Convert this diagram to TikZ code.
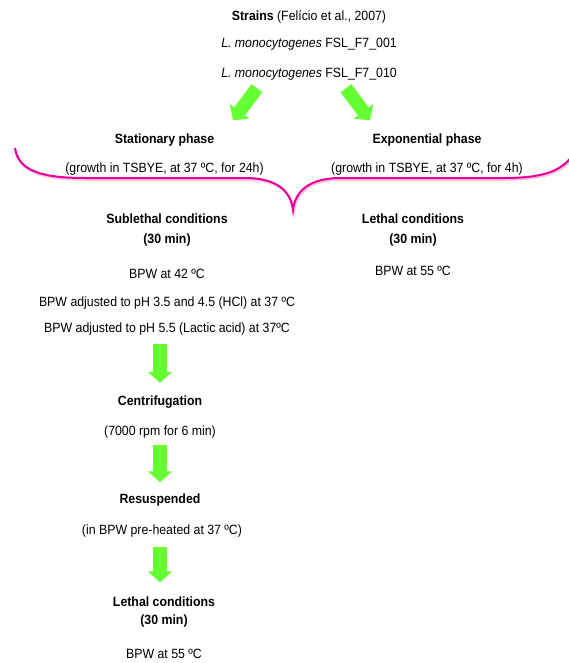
\documentclass[tikz,border=0pt]{standalone}
\usepackage{fontspec}
\setmainfont[FakeStretch=0.92]{Liberation Sans}
\usepackage{tikz}
\usetikzlibrary{arrows.meta,calc}
\definecolor{arrowgreen}{RGB}{102,255,51}
\definecolor{bracemag}{RGB}{232,0,155}
\definecolor{braceshade}{RGB}{246,196,220}

\begin{document}
\begin{tikzpicture}[x=1pt,y=-1pt,
  txt/.style={font=\fontsize{13.4}{15}\selectfont,inner sep=1pt,text height=9.5pt,text depth=2.5pt},
  bigarrow/.style={arrowgreen,line width=13.5pt,-{Triangle[width=24pt,length=11pt]}},
  downarrow/.style={bigarrow,shorten <=8pt,shorten >=12pt}]
  \useasboundingbox (0,0) rectangle (569,663);
  % strains
  \node[txt] (strains) at (309,17){\textbf{Strains} (Felício et al., 2007)};
  \node[txt] (strainA) at (309,44){\textit{L. monocytogenes} FSL\_F7\_001};
  \node[txt] (strainB) at (309,74){\textit{L. monocytogenes} FSL\_F7\_010};
  % growth phases
  \node[txt] (stat) at (164.5,140){\textbf{Stationary phase}};
  \node[txt] (statg) at (164.5,169){(growth in TSBYE, at 37 ºC, for 24h)};
  \node[txt] (expo) at (427,140){\textbf{Exponential phase}};
  \node[txt] (expog) at (427,169){(growth in TSBYE, at 37 ºC, for 4h)};
  \draw[bigarrow] ([shift={(-52,7)}]strainB.south) -- ++(-24,32);
  \draw[bigarrow] ([shift={(37,7)}]strainB.south) -- ++(24,32);
  % brace
  \draw[braceshade,line width=2.5pt,shift={(1,1.5)}] (15,148) .. controls (18,172) and (45,178) .. (85,178) -- (245,178) .. controls (278,178) and (291,192) .. (293,210) .. controls (295,192) and (308,178) .. (341,178) -- (505,178) .. controls (545,178) and (562,170) .. (572,156);
  \draw[bracemag,line width=2pt] (15,148) .. controls (18,172) and (45,178) .. (85,178) -- (245,178) .. controls (278,178) and (291,192) .. (293,210) .. controls (295,192) and (308,178) .. (341,178) -- (505,178) .. controls (545,178) and (562,170) .. (572,156);
  % conditions
  \node[txt] (sub) at (167,220){\textbf{Sublethal conditions}};
  \node[txt] (subt) at (167,240){\textbf{(30 min)}};
  \node[txt] (bpw42) at (167,275){BPW at 42 ºC};
  \node[txt] (hcl) at (167,303){BPW adjusted to pH 3.5 and 4.5 (HCl) at 37 ºC};
  \node[txt] (lactic) at (167,329){BPW adjusted to pH 5.5 (Lactic acid) at 37ºC};
  \node[txt] (lethR) at (413,220){\textbf{Lethal conditions}};
  \node[txt] (lethRt) at (413,240){\textbf{(30 min)}};
  \node[txt] (bpw55R) at (413,272){BPW at 55 ºC};
  % steps
  \node[txt] (centr) at (160,402){\textbf{Centrifugation}};
  \node[txt] (rpm) at (160,432){(7000 rpm for 6 min)};
  \node[txt] (resus) at (160,500){\textbf{Resuspended}};
  \node[txt] (inbpw) at (162,531){(in BPW pre-heated at 37 ºC)};
  \node[txt] (leth) at (164,603){\textbf{Lethal conditions}};
  \node[txt] (letht) at (164,621){\textbf{(30 min)}};
  \node[txt] (bpw55) at (164,655){BPW at 55 ºC};
  \draw[downarrow] (lactic.south -| centr) -- (centr.north);
  \draw[downarrow,shorten <=6pt,shorten >=10.5pt] (rpm.south) -- (resus.north -| rpm);
  \draw[downarrow,shorten <=9pt,shorten >=13.5pt] (inbpw.south -| resus) -- (leth.north -| resus);
\end{tikzpicture}
\end{document}
